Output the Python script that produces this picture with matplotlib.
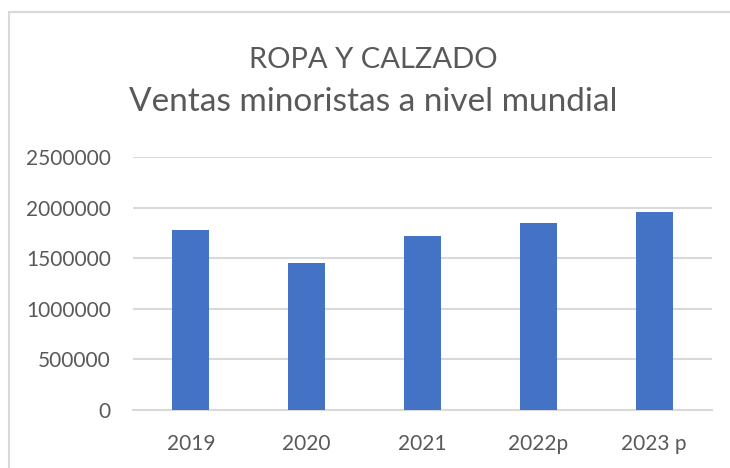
import matplotlib.pyplot as plt
from matplotlib.patches import Rectangle

# data
years = ['2019', '2020', '2021', '2022p', '2023 p']
sales = [1778000, 1452000, 1716000, 1845000, 1957000]
yticks = [0, 500000, 1000000, 1500000, 2000000, 2500000]

plt.rcParams['font.family'] = ['Lato', 'DejaVu Sans']
text_color = '#595959'
grid_color = '#D9D9D9'

fig = plt.figure(figsize=(7.3, 4.68), dpi=100)
ax = fig.add_axes([133/730, 1 - 410/468, 579/730, 253/468])

x = range(len(years))
ax.bar(x, sales, width=0.32, color='#4472C4', zorder=3)

ax.set_xlim(-0.5, len(years) - 0.5)
ax.set_ylim(0, 2500000)
ax.set_yticks(yticks)
ax.set_yticklabels([str(v) for v in yticks])
ax.set_xticks(list(x))
ax.set_xticklabels(years)

ax.grid(axis='y', color=grid_color, linewidth=1.5, zorder=0)
for side in ['top', 'right', 'left']:
    ax.spines[side].set_visible(False)
ax.spines['bottom'].set_color(grid_color)
ax.spines['bottom'].set_linewidth(1.5)
ax.tick_params(axis='both', length=0, labelsize=15, labelcolor=text_color)
ax.tick_params(axis='y', pad=16)
ax.tick_params(axis='x', pad=17)

# two-line title
fig.text(373/730, 1 - 68/468, 'ROPA Y CALZADO', ha='center', va='baseline',
         fontsize=21, color=text_color)
fig.text(373/730, 1 - 111/468, 'Ventas minoristas a nivel mundial', ha='center',
         va='baseline', fontsize=24, color=text_color)

# chart frame (cropped at right and bottom)
fig.patches.append(Rectangle((9/730, -0.1), 1.0, 1.1 - 12/468, transform=fig.transFigure,
                             fill=False, edgecolor=grid_color, linewidth=1.5))

fig.savefig('out.png', dpi=100, facecolor='white')
